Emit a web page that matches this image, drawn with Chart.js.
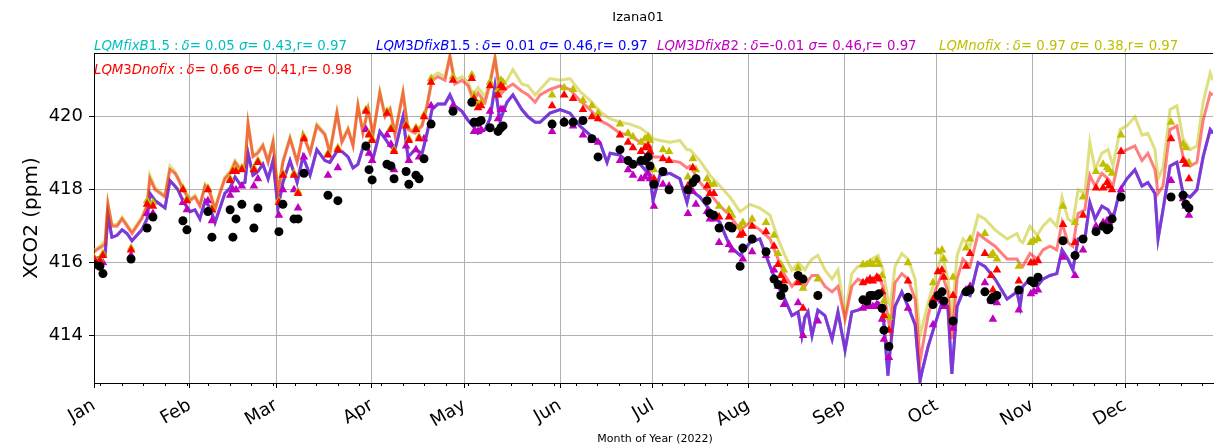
<!DOCTYPE html>
<html>
<head>
<meta charset="utf-8">
<script src="https://cdn.jsdelivr.net/npm/chart.js@4.4.1/dist/chart.umd.min.js"></script>
<style>
  html, body { margin: 0; padding: 0; background: #fff; }
  #wrap { width: 1214px; height: 446px; }
</style>
</head>
<body>
<div id="wrap"><canvas id="xco2Chart" width="1214" height="446"></canvas></div>
<script>
// day of year 2022 (0 = Jan 1)
const lineDays = [
  0.0, 1.9, 3.6, 4.5, 5.8, 7.5, 9.1, 10.7, 12.3, 13.9, 15.5, 17.2, 18.1, 19.8, 21.4, 23.0, 24.6, 26.2, 27.2, 28.8,
  31.1, 32.7, 34.3, 36.0, 37.6, 39.2, 40.8, 42.4, 44.1, 45.7, 47.3, 48.9, 49.9, 51.5, 53.1, 54.7, 56.4, 58.0, 59.6, 61.2,
  63.5, 65.8, 67.7, 70.0, 72.2, 74.8, 76.4, 78.7, 80.3, 82.3, 83.9, 85.5, 87.1, 88.8, 90.4, 92.6, 94.3, 95.9, 97.5, 100.1,
  101.7, 104.0, 106.3, 107.9, 109.5, 111.4, 113.7, 115.3, 116.9, 119.2, 121.2, 122.8, 124.4, 126.7, 128.3, 129.9, 131.5, 133.8, 135.7, 138.6,
  140.6, 142.9, 144.5, 147.7, 151.0, 154.2, 157.4, 160.7, 163.9, 166.2, 167.2, 170.4, 173.6, 176.9, 180.1, 181.1, 183.3, 186.6, 189.8, 192.1,
  193.1, 196.3, 199.5, 202.8, 206.0, 209.3, 212.5, 215.7, 219.0, 221.6, 223.8, 226.1, 228.1, 229.3, 230.3, 231.3, 232.6, 234.5, 236.8, 239.1,
  241.0, 243.3, 245.5, 247.5, 249.8, 252.0, 254.0, 255.6, 257.2, 257.9, 259.5, 261.7, 263.7, 266.0, 267.6, 268.2, 270.2, 272.4, 274.7, 276.6,
  277.9, 279.6, 281.5, 283.8, 286.4, 288.6, 291.9, 295.8, 299.0, 300.0, 300.9, 303.2, 305.5, 307.4, 309.7, 311.9, 313.6, 315.5, 317.1, 318.8,
  321.0, 322.6, 324.3, 326.5, 328.5, 330.1, 332.4, 334.6, 337.2, 339.5, 341.4, 343.7, 344.7, 346.3, 348.6, 350.8, 352.8, 355.1, 357.3, 359.3,
  361.6, 362.5
];

// LQMnofix (olive)
const nofixLine = [
  416.35, 416.45, 416.6, 417.65, 417.05, 417.05, 417.25, 417.05, 416.85, 417.05, 417.25, 417.6, 418.4, 418.05, 417.95, 417.85, 418.65, 418.5, 418.35, 418.05,
  417.75, 417.85, 417.6, 418.15, 417.95, 417.5, 417.95, 418.35, 418.5, 418.8, 418.6, 418.7, 419.85, 418.95, 419.05, 419.25, 418.8, 419.35, 417.95, 418.8,
  419.45, 418.8, 419.55, 419.05, 419.8, 419.55, 419.05, 420.15, 419.35, 419.7, 419.25, 420.35, 419.6, 420.25, 419.55, 420.7, 420.05, 420.25, 419.55, 420.7,
  419.7, 419.6, 419.8, 420.35, 421.1, 421.2, 421.1, 421.7, 421.0, 421.1, 420.95, 420.6, 420.8, 420.55, 421.0, 421.65, 420.8, 421.0, 421.3, 420.9,
  420.85, 420.6, 420.75, 421.05, 421.0, 421.05, 420.7, 420.45, 420.15, 420.0, 419.95, 419.85, 419.8, 419.7, 419.5, 419.4, 419.35, 419.3, 419.35, 419.1,
  419.1, 418.8, 418.4, 418.1, 417.8, 417.4, 417.6, 417.5, 417.3, 416.65, 416.2, 415.8, 416.0, 415.9, 415.8, 415.95, 416.1, 416.2, 415.8, 415.55,
  415.8, 414.55, 415.7, 415.9, 415.9, 416.1, 416.2, 415.8, 415.0, 414.8, 415.9, 416.25, 416.1, 415.55, 414.0, 414.2, 414.9, 415.55, 416.25, 415.55,
  414.5, 416.2, 416.65, 416.45, 417.3, 417.2, 416.9, 416.65, 416.8, 416.6, 416.55, 417.0, 416.75, 417.0, 417.2, 417.0, 417.8, 417.2, 417.1, 418.0,
  417.9, 419.3, 418.55, 419.0, 419.1, 418.65, 419.65, 419.75, 420.0, 419.5, 419.55, 419.1, 418.3, 418.6, 420.2, 420.3, 419.4, 419.1, 419.2, 420.4,
  421.2, 421.0
];

// LQM3Dnofix (red)
const nofix3DLine = [
  416.3, 416.4, 416.5, 417.6, 417.0, 417.0, 417.2, 417.0, 416.8, 417.0, 417.2, 417.55, 418.3, 418.0, 417.9, 417.8, 418.55, 418.45, 418.3, 418.0,
  417.7, 417.8, 417.55, 418.1, 417.9, 417.45, 417.9, 418.3, 418.45, 418.75, 418.55, 418.65, 419.8, 418.9, 419.0, 419.2, 418.75, 419.3, 417.9, 418.75,
  419.4, 418.75, 419.5, 419.0, 419.75, 419.5, 419.0, 420.1, 419.3, 419.65, 419.2, 420.3, 419.55, 420.2, 419.5, 420.65, 420.0, 420.2, 419.5, 420.65,
  419.65, 419.55, 419.75, 420.3, 421.0, 421.1, 421.0, 421.65, 420.9, 421.0, 420.85, 420.45, 420.65, 420.4, 420.9, 421.6, 420.6, 420.8, 420.9, 420.7,
  420.6, 420.4, 420.6, 420.75, 420.85, 420.75, 420.45, 420.2, 419.9, 419.8, 419.75, 419.55, 419.5, 419.3, 419.2, 418.9, 418.9, 418.8, 418.75, 418.6,
  418.65, 418.2, 417.9, 417.55, 417.3, 416.9, 417.1, 416.9, 416.65, 416.1, 415.65, 415.35, 415.55, 415.45, 415.35, 415.5, 415.65, 415.65, 415.35, 415.2,
  415.35, 414.45, 415.35, 415.55, 415.45, 415.55, 415.65, 415.35, 414.5, 414.15, 415.45, 415.7, 415.55, 415.0, 413.3, 413.6, 414.55, 415.2, 415.7, 415.2,
  413.9, 415.55, 416.1, 415.9, 416.8, 416.65, 416.45, 416.1, 416.1, 415.95, 415.9, 416.25, 416.1, 416.35, 416.45, 416.35, 417.1, 416.55, 416.45, 417.35,
  417.45, 418.4, 418.1, 418.45, 418.3, 418.1, 419.0, 419.1, 419.2, 418.8, 419.0, 418.55, 417.9, 418.1, 419.65, 419.75, 418.9, 418.65, 418.75, 419.9,
  420.65, 420.6
];

// LQMfixB1.5 / LQM3DfixB1.5 / LQM3DfixB2 lie on top of each other
const fixLine = [
  416.1, 416.15, 416.2, 417.3, 416.7, 416.75, 416.9, 416.8, 416.6, 416.75, 416.9, 417.2, 417.9, 417.7, 417.6, 417.5, 418.25, 418.1, 418.0, 417.7,
  417.4, 417.45, 417.2, 417.7, 417.5, 417.1, 417.5, 417.9, 418.05, 418.35, 418.15, 418.2, 419.0, 418.4, 418.5, 418.7, 418.3, 418.8, 417.5, 418.2,
  418.8, 418.2, 418.9, 418.4, 419.1, 418.8, 418.75, 419.05, 419.05, 418.9, 418.6, 418.7, 419.15, 419.1, 418.85, 419.6, 419.4, 419.2, 419.1, 420.0,
  418.9, 419.1, 419.0, 419.55, 420.2, 420.35, 420.35, 420.6, 420.3, 420.15, 419.9, 419.75, 419.55, 419.65, 419.95, 420.85, 419.9, 420.4, 420.6, 420.2,
  420.0, 419.85, 419.85, 420.1, 420.2, 420.1, 419.75, 419.5, 419.3, 418.75, 419.0, 418.95, 418.7, 418.7, 418.4, 417.7, 418.4, 418.45, 418.3, 417.65,
  418.0, 417.8, 417.45, 417.1, 416.45, 416.2, 416.55, 416.65, 415.9, 415.35, 415.0, 414.55, 414.65, 414.0, 414.5, 414.65, 414.0, 414.7, 414.55, 413.9,
  414.65, 413.6, 414.65, 414.7, 414.8, 414.8, 414.9, 414.65, 412.9, 413.6, 414.8, 415.2, 414.8, 414.3, 412.75, 413.0, 413.7, 414.3, 414.9, 414.8,
  412.95, 414.8, 415.2, 415.1, 416.0, 415.9, 415.55, 415.0, 415.2, 414.8, 415.35, 415.55, 415.35, 415.55, 415.65, 415.7, 416.35, 416.1, 415.8, 416.65,
  416.65, 417.65, 417.2, 417.55, 417.45, 417.2, 418.0, 418.3, 418.55, 418.1, 418.2, 417.9, 416.65, 417.45, 418.65, 418.75, 417.9, 417.8, 418.0, 418.9,
  419.65, 419.55
];

// TCCON observations and the models at the observation times
const obsDays = [
  0.0, 1.9, 2.9, 12.0, 17.2, 19.1, 28.8, 30.1, 36.9, 38.2, 44.1, 45.0, 46.0, 47.9, 51.8, 53.1, 59.9, 61.2, 64.8, 66.1,
  68.0, 75.8, 79.0, 88.1, 89.1, 90.1, 94.9, 96.2, 97.2, 101.1, 102.0, 104.3, 105.3, 106.9, 109.2, 116.3, 122.4, 123.1, 124.4, 125.4,
  128.3, 130.9, 131.8, 132.5, 148.4, 152.3, 155.2, 158.4, 161.3, 163.3, 170.4, 173.0, 174.6, 177.2, 178.5, 179.5, 180.1, 181.4, 184.3, 186.3,
  192.4, 194.0, 195.0, 198.6, 199.5, 200.8, 202.5, 205.7, 206.7, 209.3, 210.2, 213.2, 217.7, 220.3, 221.6, 222.5, 223.5, 228.1, 229.7, 234.5,
  249.1, 250.4, 251.4, 252.3, 253.6, 254.3, 255.3, 255.9, 257.5, 263.7, 271.8, 273.4, 274.7, 275.3, 278.3, 282.5, 283.8, 288.6, 290.6, 291.2,
  292.5, 299.6, 303.5, 304.5, 305.8, 313.9, 317.8, 320.4, 324.6, 326.9, 328.2, 328.8, 329.8, 332.7, 348.9, 352.8, 353.7, 354.7
];
const obsXco2 = [
  415.95, 415.9, 415.7, 416.1, 416.95, 417.25, 417.15, 416.9, 417.4, 416.7, 417.45, 416.7, 417.2, 417.6, 416.95, 417.5, 416.85, 417.6, 417.2, 417.2,
  418.45, 417.85, 417.7, 419.2, 418.55, 418.27, 418.7, 418.65, 418.3, 418.5, 418.15, 418.4, 418.3, 418.85, 419.8, 420.15, 420.4, 419.85, 419.85, 419.9,
  419.7, 419.6, 419.7, 419.75, 419.8, 419.85, 419.85, 419.9, 419.4, 418.9, 419.1, 418.8, 418.7, 418.8, 418.8, 418.9, 418.65, 418.15, 418.5, 418.0,
  418.0, 418.2, 418.3, 417.7, 417.35, 417.3, 416.95, 417.0, 416.95, 415.9, 416.4, 416.65, 416.3, 415.55, 415.4, 415.1, 415.3, 415.65, 415.55, 415.1,
  414.98, 414.95, 415.1, 415.1, 415.1, 415.15, 414.75, 414.15, 413.7, 415.05, 414.85, 415.1, 415.2, 414.95, 414.4, 415.2, 415.25, 415.2, 414.98, 415.05,
  415.1, 415.25, 415.5, 415.45, 415.6, 416.6, 416.2, 416.65, 416.85, 417.0, 416.9, 416.95, 417.2, 417.8, 417.8, 417.85, 417.6, 417.5
];
const triNofix = [
  416.15, 416.1, 416.25, 416.4, 417.7, 417.65, 418.05, 417.75, 418.05, 417.5, 418.3, 418.55, 418.55, 418.6, 418.6, 418.8, 417.7, 418.45, 418.45, 417.95,
  419.45, 419.0, 419.15, 420.2, 419.55, 419.4, 420.15, 419.7, 419.1, 419.8, 419.4, 419.7, 419.45, 420.05, 421.05, 421.1, 421.15, 420.6, 420.35, 420.4,
  420.95, 420.75, 421.0, 420.95, 420.6, 420.8, 420.75, 420.45, 420.3, 420.1, 419.8, 419.55, 419.45, 419.3, 419.4, 419.45, 419.35, 418.55, 419.1, 419.05,
  418.35, 418.85, 418.55, 418.3, 418.15, 418.15, 417.55, 417.45, 417.3, 417.0, 417.1, 417.2, 417.1, 416.75, 416.25, 415.95, 415.8, 415.85, 415.3, 415.55,
  415.95, 415.95, 416.0, 415.95, 416.05, 415.95, 415.65, 414.95, 414.5, 416.0, 415.45, 416.3, 416.35, 416.1, 415.6, 416.4, 416.65, 416.8, 416.2, 416.25,
  416.1, 415.9, 416.55, 416.6, 416.65, 417.55, 417.1, 417.8, 418.5, 418.7, 418.6, 418.55, 418.45, 419.5, 419.85, 419.25, 419.15, 418.75
];
const triNofix3D = [
  416.1, 416.05, 416.2, 416.35, 417.6, 417.55, 418.0, 417.7, 418.0, 417.45, 418.25, 418.5, 418.5, 418.55, 418.55, 418.75, 417.65, 418.4, 418.4, 417.9,
  419.4, 418.95, 419.1, 420.15, 419.5, 419.35, 420.1, 419.65, 419.05, 419.75, 419.35, 419.65, 419.4, 420.0, 420.95, 421.0, 421.05, 420.5, 420.25, 420.3,
  420.85, 420.6, 420.85, 420.8, 420.3, 420.6, 420.5, 420.2, 420.0, 419.95, 419.5, 419.3, 419.15, 419.05, 419.15, 419.2, 419.05, 418.3, 418.85, 418.8,
  418.1, 418.6, 418.3, 418.1, 417.9, 417.9, 417.25, 417.25, 417.0, 416.75, 416.8, 417.0, 416.85, 416.45, 415.95, 415.65, 415.5, 415.45, 414.75, 415.1,
  415.45, 415.5, 415.55, 415.5, 415.6, 415.55, 415.2, 414.55, 414.15, 415.5, 415.0, 415.75, 415.8, 415.6, 415.1, 415.9, 416.25, 416.25, 415.65, 415.25,
  415.8, 415.5, 416.0, 416.0, 416.05, 417.05, 416.55, 417.3, 418.05, 418.05, 418.2, 418.1, 418.0, 419.05, 419.4, 418.8, 418.7, 418.3
];
const triFix = [
  415.95, 415.95, 416.0, 416.2, 417.35, 417.35, 417.65, 417.45, 417.7, 417.15, 417.85, 418.0, 418.0, 418.1, 418.1, 418.3, 417.3, 418.0, 418.0, 417.5,
  418.9, 418.4, 418.6, 419.65, 419.0, 418.8, 419.5, 419.25, 418.55, 419.2, 418.8, 419.1, 418.9, 419.4, 420.3, 420.3, 420.45, 419.6, 419.6, 419.65,
  420.15, 419.95, 420.2, 420.2, 419.6, 419.9, 419.75, 419.5, 419.35, 419.3, 418.8, 418.55, 418.4, 418.3, 418.35, 418.45, 418.3, 417.55, 418.15, 418.1,
  417.35, 417.95, 417.6, 417.4, 417.2, 417.2, 416.55, 416.5, 416.35, 415.9, 416.1, 416.3, 416.2, 415.8, 415.35, 415.1, 414.85, 414.9, 414.0, 414.4,
  414.75, 414.8, 414.8, 414.8, 414.85, 414.8, 414.45, 413.9, 413.4, 414.75, 414.3, 415.0, 414.95, 414.8, 414.2, 415.25, 415.35, 415.45, 414.95, 414.45,
  414.9, 414.7, 415.15, 415.2, 415.25, 416.15, 415.65, 416.35, 417.0, 417.1, 417.15, 417.1, 417.25, 418.0, 418.25, 417.75, 417.55, 417.3
];

const monthTicks = [0, 31, 59, 90, 120, 151, 181, 212, 243, 273, 304, 334];
const monthLabels = ['Jan', 'Feb', 'Mar', 'Apr', 'May', 'Jun', 'Jul', 'Aug', 'Sep', 'Oct', 'Nov', 'Dec'];
const yTicks = [414, 416, 418, 420];

const statNames = ['LQMfixB1.5', 'LQM3DfixB1.5', 'LQM3DfixB2', 'LQMnofix', 'LQM3Dnofix'];
const statDelta = [' 0.05', ' 0.01', '-0.01', ' 0.97', ' 0.66'];
const statSigma = [' 0.43', ' 0.46', ' 0.46', ' 0.38', ' 0.41'];
const statR = [' 0.97', ' 0.97', ' 0.97', ' 0.97', ' 0.98'];
const statColors = ['#00bfbf', '#0000ff', '#bf00bf', '#bfbf00', '#ff0000'];

const FONT = '"DejaVu Sans", sans-serif';
const PLOT_RIGHT = 1213;

function pts(xs, ys) {
  return xs.map((x, i) => ({ x: x, y: ys[i] }));
}

function lineSet(label, data, color, order) {
  return {
    label: label, data: pts(lineDays, data), borderColor: color, borderWidth: 3,
    pointRadius: 0, tension: 0, fill: false, order: order
  };
}

function markSet(label, data, color, style, radius, order) {
  return {
    label: label, data: pts(obsDays, data), showLine: false,
    pointStyle: style, pointRadius: radius, pointBackgroundColor: color,
    pointBorderColor: color, pointBorderWidth: 0, order: order
  };
}

// statistics labels, letters in italic like matplotlib mathtext
function drawStat(ctx, i, x, y) {
  const size = 13.3;
  const it = 'italic ' + size + 'px ' + FONT;
  const up = size + 'px ' + FONT;
  const parts = [];
  for (const ch of statNames[i]) parts.push([ch, /[A-Za-z]/.test(ch) ? it : up]);
  parts.push([' :', up], ['δ', it], ['=' + statDelta[i] + ' ', up], ['σ', it],
             ['=' + statSigma[i] + ',r=' + statR[i], up]);
  ctx.fillStyle = statColors[i];
  ctx.textAlign = 'left';
  ctx.textBaseline = 'alphabetic';
  let cx = x;
  for (const [t, f] of parts) {
    ctx.font = f;
    ctx.fillText(t, cx, y);
    cx += ctx.measureText(t).width;
    if (t === ' :') cx += 3;
  }
}

const extras = {
  id: 'extras',
  afterLayout(chart) {
    // stretch the plot to the right edge like the original figure
    const area = chart.chartArea;
    const xs = chart.scales.x;
    area.right = PLOT_RIGHT;
    area.width = area.right - area.left;
    xs.right = PLOT_RIGHT;
    xs.width = xs.right - xs.left;
    xs.configure();
  },
  afterDraw(chart) {
    const ctx = chart.ctx;
    const area = chart.chartArea;
    const xs = chart.scales.x;
    ctx.save();
    // top spine
    ctx.strokeStyle = '#000';
    ctx.lineWidth = 1;
    ctx.beginPath();
    ctx.moveTo(area.left, area.top + 0.5);
    ctx.lineTo(area.right, area.top + 0.5);
    ctx.stroke();
    // weekly minor ticks (Mondays)
    ctx.beginPath();
    for (let d = 2; d < 363; d += 7) {
      if (monthTicks.includes(d)) continue;
      const px = Math.round(xs.getPixelForValue(d)) + 0.5;
      ctx.moveTo(px, area.bottom);
      ctx.lineTo(px, area.bottom + 3);
    }
    ctx.stroke();
    // titles
    ctx.fillStyle = '#000';
    ctx.textAlign = 'center';
    ctx.textBaseline = 'alphabetic';
    ctx.font = '13px ' + FONT;
    ctx.fillText('Izana01', 638, 21);
    ctx.font = '11px ' + FONT;
    ctx.fillText('Month of Year (2022)', 655, 442);
    ctx.save();
    ctx.translate(32, 218);
    ctx.rotate(-Math.PI / 2);
    ctx.font = '20px ' + FONT;
    ctx.textBaseline = 'middle';
    ctx.fillText('XCO2 (ppm)', 0, 0);
    ctx.restore();
    // statistics
    drawStat(ctx, 0, 94, 50);
    drawStat(ctx, 1, 376, 50);
    drawStat(ctx, 2, 657, 50);
    drawStat(ctx, 3, 939, 50);
    drawStat(ctx, 4, 94, 74);
    ctx.restore();
  }
};

const ctx = document.getElementById('xco2Chart').getContext('2d');
const xco2Chart = new Chart(ctx, {
  type: 'line',
  data: {
    datasets: [
      lineSet('LQMfixB1.5', fixLine, 'rgba(0,191,191,0.5)', 8),
      lineSet('LQM3DfixB1.5', fixLine, 'rgba(0,0,255,0.5)', 7),
      lineSet('LQM3DfixB2', fixLine, 'rgba(191,0,191,0.5)', 6),
      lineSet('LQMnofix', nofixLine, 'rgba(191,191,0,0.5)', 5),
      lineSet('LQM3Dnofix', nofix3DLine, 'rgba(255,0,0,0.5)', 4),
      markSet('LQM3DfixB2 at obs', triFix, '#bf00bf', 'triangle', 5, 3),
      markSet('LQMnofix at obs', triNofix, '#bfbf00', 'triangle', 5, 2),
      markSet('LQM3Dnofix at obs', triNofix3D, '#ff0000', 'triangle', 5, 1),
      markSet('TCCON', obsXco2, '#000000', 'circle', 4.5, 0)
    ]
  },
  options: {
    responsive: false,
    animation: false,
    devicePixelRatio: 1,
    layout: { padding: { top: 53, right: 1, left: 0, bottom: 0 } },
    plugins: { legend: { display: false }, tooltip: { enabled: false }, title: { display: false } },
    scales: {
      x: {
        type: 'linear',
        min: 0,
        max: 362.5,
        afterBuildTicks: s => { s.ticks = monthTicks.map(v => ({ value: v })); },
        afterFit: s => { s.height = 63; s.paddingLeft = 0; s.paddingRight = 0; },
        ticks: {
          autoSkip: false,
          maxRotation: 30,
          minRotation: 30,
          padding: 7,
          color: '#000',
          font: { family: FONT, size: 18 },
          callback: v => monthLabels[monthTicks.indexOf(v)]
        },
        grid: { color: '#b0b0b0', lineWidth: 1, tickColor: '#000', tickLength: 5 },
        border: { color: '#000', width: 1 }
      },
      y: {
        min: 412.7,
        max: 421.75,
        afterBuildTicks: s => { s.ticks = yTicks.map(v => ({ value: v })); },
        afterFit: s => { s.width = 94; s.paddingTop = 0; s.paddingBottom = 0; },
        ticks: {
          padding: 6,
          color: '#000',
          font: { family: FONT, size: 18 },
          callback: v => String(v)
        },
        grid: { color: '#b0b0b0', lineWidth: 1, tickColor: '#000', tickLength: 5 },
        border: { color: '#000', width: 1 }
      }
    }
  },
  plugins: [extras]
});
</script>
</body>
</html>
